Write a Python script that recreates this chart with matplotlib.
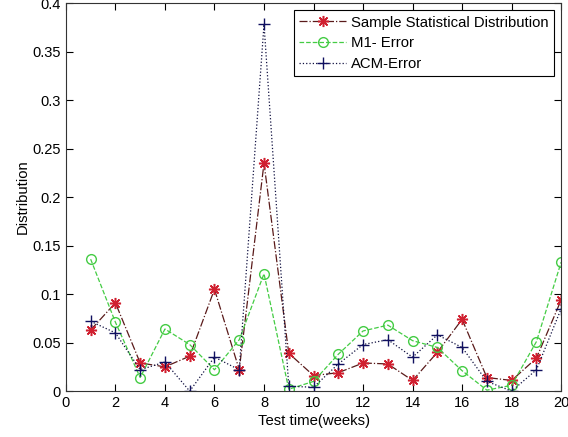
import numpy as np
import matplotlib
matplotlib.use('Agg')
import matplotlib.pyplot as plt

plt.rcParams['font.family'] = ['Liberation Sans', 'DejaVu Sans']
plt.rcParams['font.size'] = 10.7

weeks = list(range(1, 21))
sample_dist = [0.063, 0.091, 0.029, 0.025, 0.036, 0.105, 0.022, 0.235, 0.039, 0.016,
               0.019, 0.029, 0.028, 0.011, 0.040, 0.074, 0.014, 0.011, 0.034, 0.094]
m1_error = [0.136, 0.071, 0.014, 0.064, 0.048, 0.022, 0.053, 0.121, 0.002, 0.010,
            0.038, 0.062, 0.068, 0.052, 0.045, 0.021, 0.001, 0.006, 0.051, 0.133]
acm_error = [0.072, 0.060, 0.022, 0.030, 0.000, 0.035, 0.022, 0.378, 0.005, 0.004,
             0.028, 0.048, 0.053, 0.035, 0.058, 0.045, 0.010, 0.000, 0.022, 0.085]

fig = plt.figure(figsize=(5.68, 4.37), dpi=100)
ax = fig.add_axes([0.116, 0.105, 0.872, 0.888])

# MATLAB-ish asterisk, circle and plus markers
ax.plot(weeks, sample_dist, linestyle='-.', color='#5a1a1a', linewidth=0.9,
        marker=(8, 2, 0), markersize=8, markeredgewidth=1.1,
        markeredgecolor='#d02030', markerfacecolor='#d02030',
        label='Sample Statistical Distribution')
ax.plot(weeks, m1_error, linestyle='--', color='#44cc44', linewidth=0.9,
        marker='o', markersize=7, markeredgecolor='#44cc44', markerfacecolor='none',
        label='M1- Error')
ax.plot(weeks, acm_error, linestyle=':', color='#101040', linewidth=0.9,
        marker='+', markersize=8, markeredgecolor='#101060', markeredgewidth=1.0,
        label='ACM-Error')

ax.set_xlim(0, 20)
ax.set_ylim(0, 0.4)
ax.set_xticks(np.arange(0, 21, 2))
ax.set_yticks(np.arange(0, 0.41, 0.05))
ax.set_yticklabels(['0', '0.05', '0.1', '0.15', '0.2', '0.25', '0.3', '0.35', '0.4'])
ax.tick_params(direction='in', top=True, right=True, labelsize=10.5, length=5)
for s in ax.spines.values():
    s.set_linewidth(0.8)
    s.set_color('#333333')

ax.set_xlabel('Test time(weeks)', labelpad=3)
ax.set_ylabel('Distribution', labelpad=2)

leg = ax.legend(loc='upper right', fancybox=False, framealpha=1, edgecolor='black',
                borderpad=0.35, labelspacing=0.45, handlelength=3.2, handletextpad=0.3,
                borderaxespad=0.5)
leg.get_frame().set_linewidth(0.8)

fig.savefig('out.png', dpi=100)
